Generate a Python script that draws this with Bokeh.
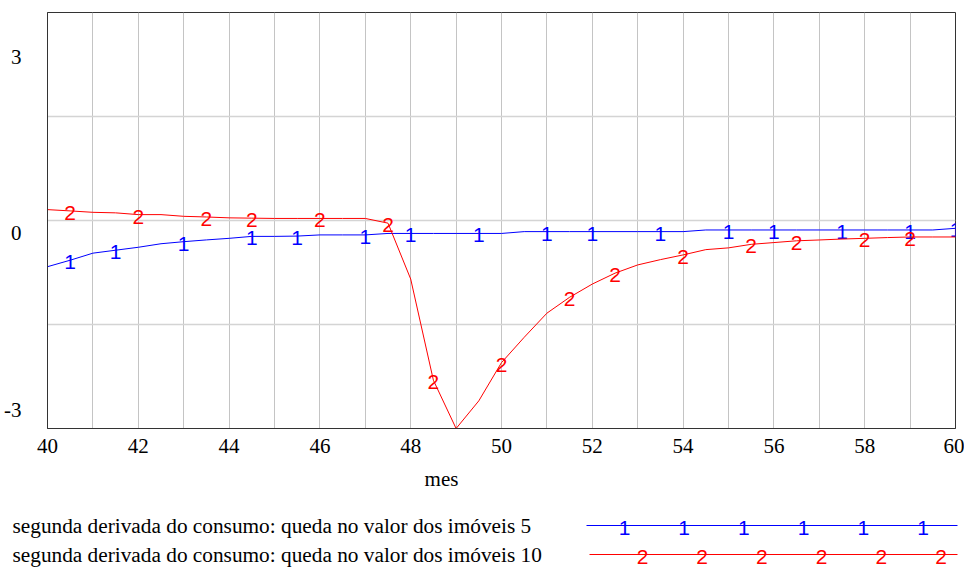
import numpy as np
from bokeh.plotting import figure
from bokeh.models import FixedTicker, Range1d
from bokeh.core.properties import value
from bokeh.embed import file_html
from bokeh.resources import INLINE

# ---- data ----
months = [40.0, 40.5, 41.0, 41.5, 42.0, 42.5, 43.0, 43.5, 44.0, 44.5,
          45.0, 45.5, 46.0, 46.5, 47.0, 47.5, 48.0, 48.5, 49.0, 49.5,
          50.0, 50.5, 51.0, 51.5, 52.0, 52.5, 53.0, 53.5, 54.0, 54.5,
          55.0, 55.5, 56.0, 56.5, 57.0, 57.5, 58.0, 58.5, 59.0, 59.5, 60.0]

serie_5 = [-0.57, -0.46, -0.34, -0.29, -0.24, -0.18, -0.145, -0.115, -0.088, -0.055,
           -0.055, -0.05, -0.03, -0.03, -0.03, -0.005, -0.005, -0.005, -0.005, -0.005,
           -0.005, 0.026, 0.026, 0.026, 0.026, 0.026, 0.026, 0.026, 0.026, 0.054,
           0.054, 0.054, 0.054, 0.054, 0.054, 0.054, 0.054, 0.054, 0.054, 0.054, 0.082]

serie_10 = [0.40, 0.378, 0.354, 0.345, 0.315, 0.315, 0.286, 0.275, 0.26, 0.255,
            0.25, 0.25, 0.25, 0.25, 0.25, 0.17, -0.78, -2.5, -3.32, -2.85,
            -2.2, -1.77, -1.36, -1.09, -0.865, -0.68, -0.54, -0.45, -0.37, -0.28,
            -0.25, -0.19, -0.16, -0.13, -0.116, -0.10, -0.088, -0.075, -0.065, -0.065, -0.065]

marks_5 = [40.5, 41.5, 43.0, 44.5, 45.5, 47.0, 48.0, 49.5, 51.0, 52.0,
           53.5, 55.0, 56.0, 57.5, 59.0, 60.0]
marks_10 = [40.5, 42.0, 43.5, 44.5, 46.0, 47.5, 48.5, 50.0, 51.5, 52.5,
            54.0, 55.5, 56.5, 58.0, 59.0]

x_ticks = [40, 42, 44, 46, 48, 50, 52, 54, 56, 58, 60]
x_labels = ["40", "42", "44", "46", "48", "50", "52", "54", "56", "58", "60"]
y_ticks = [-3, 0, 3]
y_labels = ["-3", "0", "3"]
x_title = "mes"

names = ["segunda derivada do consumo: queda no valor dos imóveis 5",
         "segunda derivada do consumo: queda no valor dos imóveis 10"]
colors = ["#0000ff", "#ff0000"]

y_lo, y_hi = -3.32, 3.75

SERIF = "Liberation Serif"
SANS = value("Liberation Sans")
LEFT, RIGHT = 47, 9
H_MAIN, H_LEG = 462, 106

p = figure(width=964, height=H_MAIN, output_backend="svg", toolbar_location=None,
           x_range=Range1d(40, 60), y_range=Range1d(y_lo, y_hi),
           min_border_left=LEFT, min_border_right=RIGHT, min_border_top=12, min_border_bottom=34)
p.background_fill_color = "white"
p.border_fill_color = "white"
p.outline_line_color = "#333333"
p.outline_line_width = 1

for ys, marks, lbl, c in [(serie_5, marks_5, "1", colors[0]), (serie_10, marks_10, "2", colors[1])]:
    p.line(months, ys, line_color=c, line_width=1)
    my = np.interp(marks, months, ys)
    p.text(x=marks, y=list(my), text=[lbl] * len(marks), text_color=c,
           text_font=SANS, text_font_size="21px", text_align="center",
           text_baseline="middle", y_offset=2)

p.xaxis.ticker = FixedTicker(ticks=x_ticks)
p.yaxis.ticker = FixedTicker(ticks=y_ticks)
p.xaxis.major_label_overrides = dict(zip(x_ticks, x_labels))
p.yaxis.major_label_overrides = dict(zip(y_ticks, y_labels))
p.xgrid.ticker = FixedTicker(ticks=list(range(41, 60)))
p.ygrid.ticker = FixedTicker(ticks=[y_lo + k * (y_hi - y_lo) / 4 for k in (1, 2, 3)])
p.xgrid.grid_line_color = "#c4c4c4"
p.xgrid.grid_line_width = 1
p.ygrid.grid_line_color = "#d4d4d4"
p.ygrid.grid_line_width = 1.6

for ax in (p.xaxis[0], p.yaxis[0]):
    ax.axis_line_color = "#333333"
    ax.major_tick_line_color = None
    ax.minor_tick_line_color = None
    ax.major_label_text_font = SERIF
    ax.major_label_text_font_size = "21px"
    ax.major_label_text_color = "black"
p.xaxis.major_label_standoff = 4
p.yaxis.major_label_standoff = 20

# ---- lower panel: axis title and legend (its own root, coordinates in pixels) ----
leg = figure(width=964, height=H_LEG, output_backend="svg", toolbar_location=None,
             x_range=Range1d(0, 964), y_range=Range1d(H_LEG, 0),
             x_axis_type=None, y_axis_type=None, min_border=0)
leg.outline_line_color = None
leg.grid.visible = False
leg.background_fill_color = "white"
leg.border_fill_color = "white"

leg.text(x=[441], y=[16], text=[x_title], text_font=value(SERIF), text_font_size="21px",
         text_color="black", text_align="center", text_baseline="middle")

rows = [63, 92]
for i, (nm, c, lbl) in enumerate(zip(names, colors, ["1", "2"])):
    yy = rows[i]
    leg.text(x=[12], y=[yy], text=[nm], text_font=value(SERIF), text_font_size="21.3px",
             text_color="black", text_align="left", text_baseline="middle")
    x0 = 586 + 3 * i
    leg.line([x0, 957], [yy, yy], line_color=c, line_width=1)
    mx = list(np.arange(6) * 59.7 + (624 + 18 * i))
    leg.text(x=mx, y=[yy] * 6, text=[lbl] * 6, text_color=c, text_font=SANS,
             text_font_size="21px", text_align="center", text_baseline="middle", y_offset=2)

open("out.html", "w").write(file_html([p, leg], INLINE))
